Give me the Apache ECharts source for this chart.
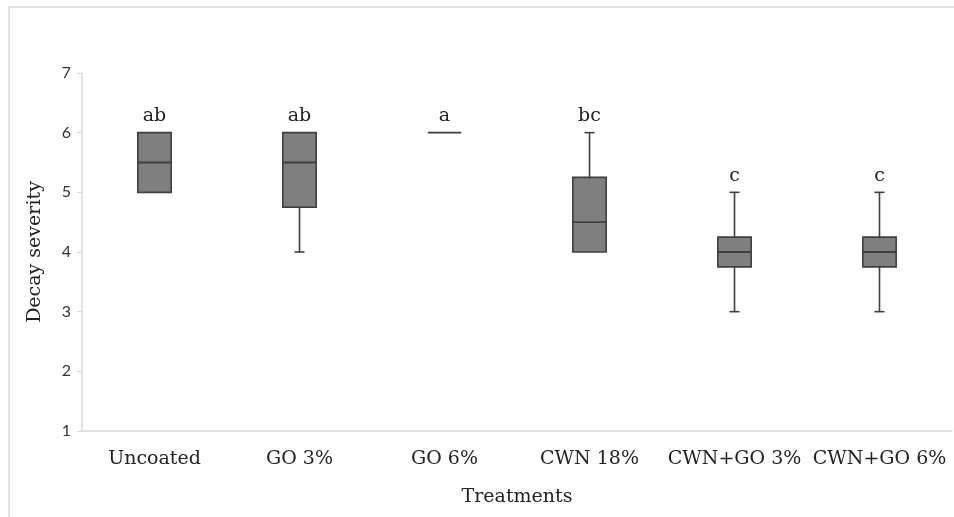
<!DOCTYPE html>
<html><head><meta charset="utf-8">
<script src="https://cdn.jsdelivr.net/npm/echarts@6/dist/echarts.min.js"></script>
<style>html,body{margin:0;padding:0;background:#fff}#c{width:954px;height:517px}</style>
</head><body><div id="c"></div>
<script>
const categories = ['Uncoated', 'GO 3%', 'GO 6%', 'CWN 18%', 'CWN+GO 3%', 'CWN+GO 6%'];
const mins    = [5,    4,    6, 4,    3,    3];
const q1s     = [5,    4.75, 6, 4,    3.75, 3.75];
const medians = [5.5,  5.5,  6, 4.5,  4,    4];
const q3s     = [6,    6,    6, 5.25, 4.25, 4.25];
const maxs    = [6,    6,    6, 6,    5,    5];
const letters = ['ab', 'ab', 'a', 'bc', 'c', 'c'];
const yTicks = [1, 2, 3, 4, 5, 6, 7];

const data = categories.map((c, i) => [i, mins[i], q1s[i], medians[i], q3s[i], maxs[i], letters[i]]);

const serif = '"DejaVu Serif", serif';
const chart = echarts.init(document.getElementById('c'), null, {renderer: 'canvas'});
const stroke = '#3f3f3f';

chart.setOption({
  animation: false,
  graphic: [{
    type: 'rect', shape: {x: 9, y: 7, width: 1000, height: 600},
    style: {fill: 'none', stroke: '#d9d9d9', lineWidth: 1.5}, silent: true, z: -1
  }],
  grid: {left: 82, right: 2, top: 73, bottom: 86},
  xAxis: {
    type: 'category', data: categories,
    name: 'Treatments', nameLocation: 'middle', nameGap: 57,
    nameTextStyle: {fontFamily: serif, fontSize: 19, color: '#222'},
    axisLine: {lineStyle: {color: '#d9d9d9', width: 1.5}},
    axisTick: {show: false},
    axisLabel: {fontFamily: serif, fontSize: 19, color: '#222', margin: 19, interval: 0, hideOverlap: false}
  },
  yAxis: {
    type: 'value', min: yTicks[0], max: yTicks[yTicks.length - 1], interval: 1,
    name: 'Decay severity', nameLocation: 'middle', nameGap: 37,
    nameTextStyle: {fontFamily: serif, fontSize: 19, color: '#222'},
    axisLine: {show: true, lineStyle: {color: '#d9d9d9', width: 1.5}},
    axisTick: {show: true, length: 5, lineStyle: {color: '#d9d9d9'}},
    splitLine: {show: false},
    axisLabel: {fontFamily: 'Lato, sans-serif', fontSize: 16, color: '#333', margin: 11}
  },
  series: [{
    type: 'custom',
    data: data,
    encode: {x: 0, y: [1, 2, 3, 4, 5]},
    renderItem: function (params, api) {
      const x = api.value(0);
      const pMin = api.coord([x, api.value(1)]);
      const pQ1 = api.coord([x, api.value(2)]);
      const pMed = api.coord([x, api.value(3)]);
      const pQ3 = api.coord([x, api.value(4)]);
      const pMax = api.coord([x, api.value(5)]);
      const bw = api.size([1, 0])[0] * 0.23;
      const cx = pMed[0];
      const cap = 5;
      const ls = {stroke: stroke, lineWidth: 1.6};
      const ch = [];
      if (api.value(5) > api.value(4)) {
        ch.push({type: 'line', shape: {x1: cx, y1: pQ3[1], x2: cx, y2: pMax[1]}, style: ls});
        ch.push({type: 'line', shape: {x1: cx - cap, y1: pMax[1], x2: cx + cap, y2: pMax[1]}, style: ls});
      }
      if (api.value(1) < api.value(2)) {
        ch.push({type: 'line', shape: {x1: cx, y1: pQ1[1], x2: cx, y2: pMin[1]}, style: ls});
        ch.push({type: 'line', shape: {x1: cx - cap, y1: pMin[1], x2: cx + cap, y2: pMin[1]}, style: ls});
      }
      if (pQ1[1] - pQ3[1] > 0.5) {
        ch.push({type: 'rect', shape: {x: cx - bw / 2, y: pQ3[1], width: bw, height: pQ1[1] - pQ3[1]},
          style: {fill: '#7f7f7f', stroke: stroke, lineWidth: 1.6}});
      }
      ch.push({type: 'line', shape: {x1: cx - bw / 2, y1: pMed[1], x2: cx + bw / 2, y2: pMed[1]},
        style: {stroke: stroke, lineWidth: 1.8}});
      ch.push({type: 'text', style: {
        text: api.value(6), x: cx, y: pMax[1] - 7,
        align: 'center', verticalAlign: 'bottom',
        font: '19px ' + serif, fill: '#222'
      }});
      return {type: 'group', children: ch};
    }
  }]
});
</script>
</body></html>
